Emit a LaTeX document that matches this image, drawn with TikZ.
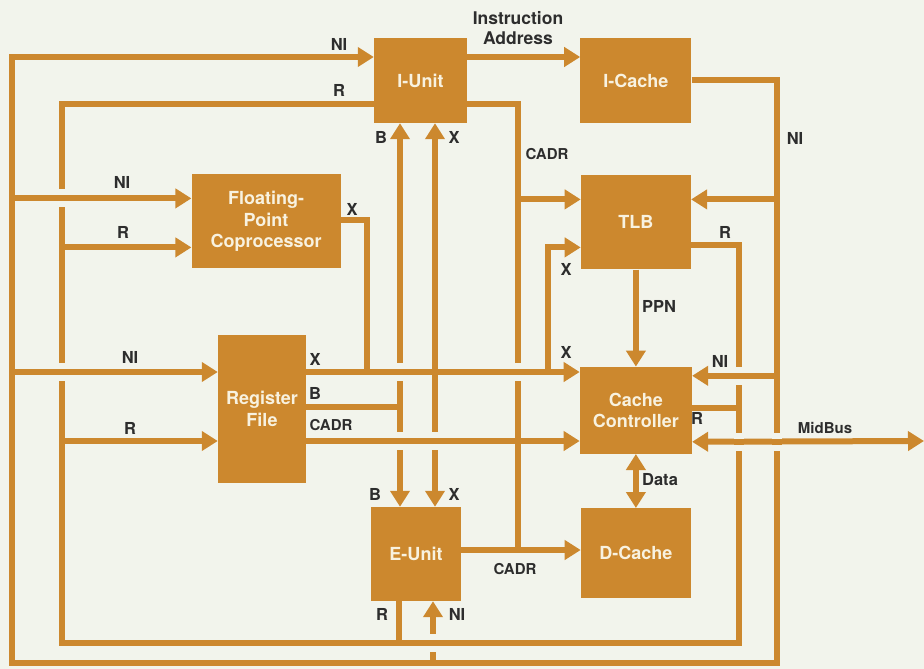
\documentclass[tikz,border=0pt]{standalone}
\usepackage{fontspec}
\setmainfont{TeX Gyre Heros}
\usetikzlibrary{arrows.meta,positioning}

\definecolor{ochre}{RGB}{204,136,46}
\definecolor{paper}{RGB}{242,244,236}
\definecolor{cream}{RGB}{248,242,224}
\definecolor{ink}{RGB}{45,45,45}

\newcommand{\hop}[1]{%
  \fill[paper] (#1) ++(-5,-9) rectangle ++(10,18);
  \fill[ochre] (#1) ++(-5,-3) rectangle ++(10,6);}

\begin{document}
\begin{tikzpicture}[x=1pt,y=-1pt,>={Triangle[length=16pt,width=19pt]},
      unit/.style={fill=ochre,text=cream,align=center,inner sep=0pt,
        font=\fontsize{18}{21.5}\selectfont\bfseries},
      bus/.style={draw=ochre,line width=6pt},
      lbl/.style={text=ink,inner sep=0pt,align=center,
        font=\fontsize{16.5}{20}\selectfont\bfseries},
      small lbl/.style={lbl,font=\fontsize{15}{20}\selectfont\bfseries}]
      \useasboundingbox (0,0) rectangle (924,669);
      \fill[paper] (0,0) rectangle (924,669);

      \node[unit,minimum width=93pt,minimum height=85pt] (iunit) at (420.5,80.5) {I-Unit};
      \node[unit,minimum width=111pt,minimum height=85pt] (icache) [right=113pt of iunit] {I-Cache};
      \node[unit,minimum width=110pt,minimum height=94pt] (tlb) [below=52pt of icache] {TLB};
      \node[unit,minimum width=112pt,minimum height=87pt] (cachectl) [below=97pt of tlb] {Cache\\Controller};
      \node[unit,minimum width=110pt,minimum height=90pt] (dcache) [below=54pt of cachectl] {D-Cache};
      \node[unit,minimum width=149pt,minimum height=94pt] (fpc) [below left=51pt and 33pt of iunit] {Floating-\\Point\\Coprocessor};
      \node[unit,minimum width=88pt,minimum height=148pt] (regfile) at (262,409) {Register\\File};
      \node[unit,minimum width=90pt,minimum height=94pt] (eunit) at (416,554) {E-Unit};

      \coordinate (iu-ni) at ([yshift=23.5pt]iunit.west);
      \coordinate (iu-r) at ([yshift=-23.5pt]iunit.west);
      \coordinate (iu-ia) at ([yshift=23.5pt]iunit.east);
      \coordinate (iu-cadr) at ([yshift=-23.5pt]iunit.east);
      \coordinate (fpc-ni) at ([yshift=23pt]fpc.west);
      \coordinate (fpc-r) at ([yshift=-26pt]fpc.west);
      \coordinate (fpc-x) at ([yshift=1pt]fpc.east);
      \coordinate (rf-ni) at ([yshift=37pt]regfile.west);
      \coordinate (rf-r) at ([yshift=-32pt]regfile.west);
      \coordinate (rf-x) at ([yshift=37pt]regfile.east);
      \coordinate (rf-b) at ([yshift=2pt]regfile.east);
      \coordinate (rf-cadr) at ([yshift=-32pt]regfile.east);
      \coordinate (tlb-cadr) at ([yshift=23pt]tlb.west);
      \coordinate (tlb-x) at ([yshift=-25pt]tlb.west);
      \coordinate (tlb-ni) at ([yshift=23pt]tlb.east);
      \coordinate (tlb-r) at ([yshift=-23pt]tlb.east);
      \coordinate (cc-ni) at ([yshift=34.5pt]cachectl.east);
      \coordinate (cc-r) at ([yshift=2.5pt]cachectl.east);
      \coordinate (cc-mid) at ([yshift=-31.5pt]cachectl.east);
      \coordinate (eu-cadr) at ([yshift=4pt]eunit.east);
      \coordinate (eu-r) at ([xshift=-17pt]eunit.south);
      \coordinate (eu-ni) at ([xshift=17pt]eunit.south);

      \coordinate (nibus-bl) at (12,663);
      \coordinate (nibus-br) at (777,663);
      \coordinate (rbus-bl) at (62,643);
      \coordinate (rbus-br) at (739,643);
      \coordinate (bbus) at (400,407);
      \coordinate (xbus) at (435,372);
      \coordinate (xbus-fp) at (367,372);
      \coordinate (xbus-tlb) at (548,372);
      \coordinate (cadrbus) at (518,550);
      \coordinate (midbus) at (924,441);

      \draw[bus,->] (icache.east) -| (nibus-br) -- (nibus-bl) |- (iu-ni);
      \draw[bus,->] (nibus-bl |- fpc-ni) -- (fpc-ni);
      \draw[bus,->] (nibus-bl |- rf-ni) -- (rf-ni);
      \draw[bus,->] (nibus-br |- tlb-ni) -- (tlb-ni);
      \draw[bus,->] (nibus-br |- cc-ni) -- (cc-ni);
      \draw[bus,->] (nibus-bl -| eu-ni) -- (eu-ni);

      \draw[bus] (iu-r) -| (rbus-bl) -- (rbus-br) |- (tlb-r);
      \draw[bus,->] (rbus-bl |- fpc-r) -- (fpc-r);
      \draw[bus,->] (rbus-bl |- rf-r) -- (rf-r);
      \draw[bus] (cc-r) -- (rbus-br |- cc-r);
      \draw[bus] (eu-r) -- (rbus-bl -| eu-r);

      \draw[bus,->] (rf-x) -- (cachectl.west |- rf-x);
      \draw[bus] (fpc-x) -| (xbus-fp);
      \draw[bus,->] (xbus-tlb) |- (tlb-x);
      \draw[bus,<->] (xbus |- iunit.south) -- (xbus |- eunit.north);
      \draw[bus,<->] (bbus |- iunit.south) -- (bbus |- eunit.north);
      \draw[bus] (rf-b) -- (bbus);

      \draw[bus,->] (rf-cadr) -- (cachectl.west |- rf-cadr);
      \draw[bus] (iu-cadr) -| (cadrbus);
      \draw[bus,->] (cadrbus |- tlb-cadr) -- (tlb-cadr);
      \draw[bus,->] (eu-cadr) -- (dcache.west |- eu-cadr);

      \draw[bus,->] (iu-ia) -- (icache.west |- iu-ia);
      \draw[bus,->] (tlb) -- (cachectl);
      \draw[bus,<->] (cachectl) -- (dcache);
      \draw[bus,<->] (cc-mid) -- (midbus);

      \hop{rbus-bl |- fpc-ni}
      \hop{rbus-bl |- rf-ni}
      \hop{bbus |- rf-x}
      \hop{cadrbus |- rf-x}
      \hop{bbus |- rf-cadr}
      \hop{xbus |- rf-cadr}
      \hop{rbus-br |- cc-ni}
      \hop{rbus-br |- cc-mid}
      \hop{nibus-br |- cc-mid}
      \hop{eu-ni |- rbus-bl}

      \node[lbl] (ni-iu) at (339,44) {NI};
      \node[lbl] (r-iu) at (339,90) {R};
      \node[lbl,font=\fontsize{17.5}{20}\selectfont\bfseries] (ia) at (518,28) {Instruction\\Address};
      \node[lbl] (b-iu) at (381,137) {B};
      \node[lbl] (x-iu) at (454,137) {X};
      \node[small lbl] (cadr-iu) at (547,154) {CADR};
      \node[lbl] (ni-ic) at (795,138) {NI};
      \node[lbl] (ni-fp) at (122,182) {NI};
      \node[lbl] (r-fp) at (123,232) {R};
      \node[lbl] (x-fp) at (352,209) {X};
      \node[lbl] (r-tlb) at (725,232) {R};
      \node[lbl] (x-tlb) at (566,269) {X};
      \node[lbl] (ppn) at (659,306) {PPN};
      \node[lbl] (ni-rf) at (130,357) {NI};
      \node[lbl] (x-rf) at (315,359) {X};
      \node[lbl] (b-rf) at (315,393) {B};
      \node[small lbl] (cadr-rf) at (331,425) {CADR};
      \node[lbl] (r-rf) at (130,428) {R};
      \node[lbl] (x-cc) at (566,352) {X};
      \node[lbl] (ni-cc) at (720,361) {NI};
      \node[lbl] (r-cc) at (697,418) {R};
      \node[small lbl] (midbus-lbl) at (825,428) {MidBus};
      \node[lbl] (data) at (660,480) {Data};
      \node[lbl] (b-eu) at (375,494) {B};
      \node[lbl] (x-eu) at (454,494) {X};
      \node[small lbl] (cadr-eu) at (515,569) {CADR};
      \node[lbl] (r-eu) at (382,614) {R};
      \node[lbl] (ni-eu) at (457,614) {NI};
    \end{tikzpicture}
\end{document}
